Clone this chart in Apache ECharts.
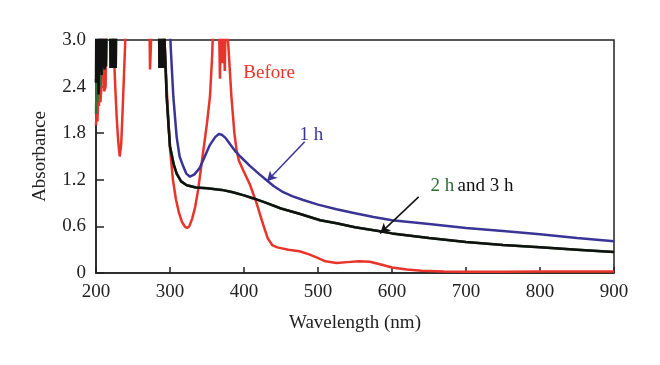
<!DOCTYPE html>
<html>
<head>
<meta charset="utf-8">
<script src="https://cdn.jsdelivr.net/npm/echarts@6/dist/echarts.min.js"></script>
<style>html,body{margin:0;padding:0;background:#fff}#c{width:660px;height:365px}</style>
</head>
<body>
<div id="c"></div>
<script>
// Wavelength (nm), absorbance pairs (values >3 are off-scale)
var before = [[200,1.9],[201,2.1],[202,1.95],[203,2.3],[204,2.15],[205,2.4],[206,2.2],[207,2.35],[208,3.4],[210,3.4],[211,2.34],[213,2.4],[214,3.4],[221,3.4],[224,2.9],[226,2.4],[228,2.0],[230,1.7],[232,1.5],[234,1.65],[236,2.1],[238,2.6],[240,3.1],[241,3.4],[272,3.4],[273,2.62],[275,2.62],[276,3.4],[290,3.4],[293,2.9],[296,2.3],[300,1.6],[304,1.2],[308,0.95],[312,0.78],[316,0.66],[320,0.6],[323,0.58],[326,0.6],[330,0.7],[334,0.85],[338,1.07],[344,1.5],[350,1.93],[354,2.27],[357,2.8],[359,3.4],[366,3.4],[367.5,2.5],[369,3.4],[371,2.7],[372.5,3.4],[374,2.6],[375.5,3.4],[377,3.4],[379,2.9],[383,2.27],[387,1.8],[390,1.58],[393,1.45],[400,1.3],[408,1.14],[417,0.9],[425,0.65],[432,0.45],[438,0.36],[445,0.33],[460,0.3],[475,0.28],[488,0.24],[498,0.2],[510,0.15],[525,0.13],[540,0.14],[555,0.15],[570,0.145],[585,0.11],[600,0.07],[620,0.045],[640,0.03],[670,0.02],[700,0.015],[750,0.015],[800,0.02],[850,0.02],[900,0.02]];
var oneHour = [[200,2.5],[201,2.3],[202,2.8],[203,2.35],[204,3.4],[299,3.4],[301,2.9],[304.5,2.27],[309,1.75],[313,1.5],[318,1.37],[322,1.28],[327,1.24],[333,1.27],[340,1.35],[347,1.5],[354,1.65],[361,1.75],[366,1.79],[368,1.81],[370,1.78],[372,1.79],[375,1.74],[381,1.66],[388,1.57],[395,1.5],[408,1.38],[421,1.27],[431,1.19],[440,1.12],[453,1.04],[465,0.99],[480,0.94],[500,0.88],[525,0.82],[550,0.77],[575,0.72],[600,0.68],[650,0.63],[700,0.58],[750,0.54],[800,0.5],[850,0.45],[900,0.41]];
var threeHours = [[200,2.45],[200.5,3.4],[201.5,2.5],[202.5,3.4],[203.5,2.3],[204.5,3.4],[205.5,2.6],[206.5,3.4],[207.5,2.55],[208.5,3.4],[209.5,2.65],[210.5,3.4],[211.5,2.62],[212.5,3.4],[213.5,2.66],[214.5,3.4],[219,3.4],[219.7,2.64],[220.4,3.4],[221.1,2.64],[221.8,3.4],[222.5,2.64],[223.2,3.4],[223.9,2.64],[224.6,3.4],[225.3,2.64],[226,3.4],[226.7,2.64],[227.4,3.4],[285,3.4],[285.7,2.64],[286.4,3.4],[287.1,2.64],[287.8,3.4],[288.5,2.64],[289.2,3.4],[289.9,2.64],[290.6,3.4],[291.3,2.64],[292,3.4],[293,2.9],[295.5,2.27],[298,1.9],[300,1.63],[305,1.4],[309,1.28],[315,1.18],[322.6,1.13],[335,1.1],[350,1.09],[370,1.07],[385,1.04],[400,1.0],[413,0.96],[431,0.9],[450,0.83],[476,0.76],[503,0.68],[525,0.64],[550,0.59],[588,0.53],[600,0.51],[650,0.45],[700,0.4],[750,0.36],[800,0.33],[850,0.3],[900,0.27]];
var twoHoursStart = [[200,2.05],[201,2.6],[202,2.2],[203,2.7],[204,2.35],[205,3.4],[206,2.4],[207,3.4]];
var twoHours = twoHoursStart.concat(threeHours.filter(function(p){return p[0] > 207;}));
var xTicks = [200,300,400,500,600,700,800,900];
var yTicks = [0,0.6,1.2,1.8,2.4,3.0];

var FONT = 'Liberation Serif';
var RED = '#e8342a', BLUE = '#3a3496', BLACK = '#111111', GREEN = '#2f6e34';

var chart = echarts.init(document.getElementById('c'), null, {renderer:'canvas'});
function lineSeries(name, data, color, z){
  return {name:name, type:'line', data:data, showSymbol:false, clip:true, z:z,
    lineStyle:{color:color, width:2.5}, itemStyle:{color:color}};
}
var sRed = lineSeries('Before', before, RED, 2);
sRed.markPoint = {symbol:'circle', symbolSize:0, silent:true,
  label:{show:true, position:'inside', formatter:'Before', color:RED, fontSize:19, fontFamily:FONT},
  data:[{coord:[434,2.57]}]};
var sBlue = lineSeries('1 h', oneHour, BLUE, 3);
sBlue.markPoint = {symbol:'circle', symbolSize:0, silent:true,
  label:{show:true, position:'inside', formatter:'1 h', color:BLUE, fontSize:19, fontFamily:FONT},
  data:[{coord:[491,1.78]}]};
sBlue.markLine = {silent:true, symbol:['none','arrow'], symbolSize:[8,10],
  lineStyle:{color:BLUE, width:1.5, type:'solid'}, label:{show:false},
  data:[[{coord:[482,1.69]},{coord:[431,1.18]}]]};
var sGreen = lineSeries('2 h', twoHours, GREEN, 4);
var sBlack = lineSeries('3 h', threeHours, BLACK, 5);
sBlack.markPoint = {symbol:'circle', symbolSize:0, silent:true,
  label:{show:true, position:'inside', formatter:'{g|2 h} {k|and 3 h}',
    rich:{g:{color:GREEN, fontSize:19, fontFamily:FONT}, k:{color:BLACK, fontSize:19, fontFamily:FONT}}},
  data:[{coord:[708,1.124]}]};
sBlack.markLine = {silent:true, symbol:['none','arrow'], symbolSize:[8,10],
  lineStyle:{color:BLACK, width:1.5, type:'solid'}, label:{show:false},
  data:[[{coord:[636,0.98]},{coord:[584,0.51]}]]};

chart.setOption({
  animation:false,
  backgroundColor:'#fff',
  grid:{left:96, right:46, top:40, bottom:92, show:true, borderColor:'#222', borderWidth:1.5},
  xAxis:{type:'value', min:xTicks[0], max:xTicks[xTicks.length-1], interval:100,
    name:'Wavelength (nm)', nameLocation:'middle', nameGap:41,
    nameTextStyle:{fontFamily:FONT, fontSize:19, color:'#222'},
    axisLine:{lineStyle:{color:'#222', width:1.5}},
    axisTick:{inside:true, length:6, lineStyle:{color:'#222', width:1.5}},
    axisLabel:{fontFamily:FONT, fontSize:19, color:'#222', margin:10},
    splitLine:{show:false}},
  yAxis:{type:'value', min:yTicks[0], max:yTicks[yTicks.length-1], interval:0.6,
    name:'Absorbance', nameLocation:'middle', nameGap:46, nameRotate:90,
    nameTextStyle:{fontFamily:FONT, fontSize:19, color:'#222'},
    axisLine:{lineStyle:{color:'#222', width:1.5}},
    axisTick:{inside:true, length:8, lineStyle:{color:'#222', width:1.5}},
    axisLabel:{fontFamily:FONT, fontSize:19, color:'#222', margin:10,
      formatter:function(v){ return Math.abs(v) < 1e-9 ? '0' : v.toFixed(1); }},
    splitLine:{show:false}},
  series:[sRed, sBlue, sGreen, sBlack]
});
</script>
</body>
</html>
